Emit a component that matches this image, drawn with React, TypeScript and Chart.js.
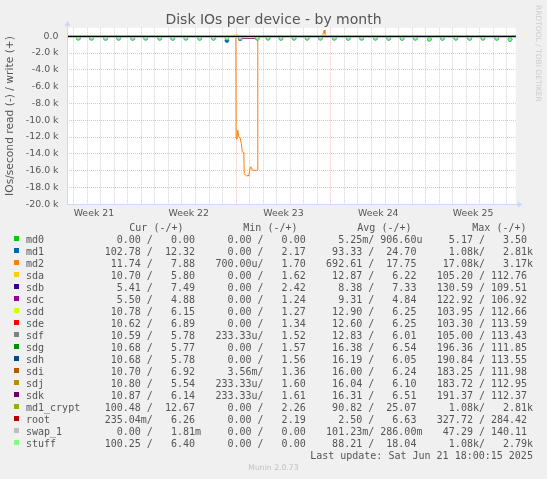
import React, { useEffect, useRef } from "react";
import { Chart, registerables, type ChartConfiguration, type Plugin } from "chart.js";

Chart.register(...registerables);

// x axis is in days since Monday 19 May 2025 00:00 (start of week 21)
const X_MIN = 1.51;
const X_MAX = 34.65;

const weekLabels = ["Week 21", "Week 22", "Week 23", "Week 24", "Week 25"];
const weekStarts = [0, 7, 14, 21, 28];

const seriesNames = [
  "md0", "md1", "md2", "sda", "sdb", "sdc", "sdd", "sde", "sdf",
  "sdg", "sdh", "sdi", "sdj", "sdk", "md1_crypt", "root", "swap_1", "stuff",
];
const seriesColors = [
  "#00cc00", "#0066b3", "#ff8000", "#ffcc00", "#330099", "#990099", "#ccff00", "#ff0000", "#808080",
  "#008f00", "#00487d", "#b35a00", "#b38f00", "#6b006b", "#8fb300", "#b30000", "#bebebe", "#80ff80",
];

// legend figures, as printed
const curRead = ["0.00", "102.78", "11.74", "10.70", "5.41", "5.50", "10.78", "10.62", "10.59", "10.68", "10.68", "10.70", "10.80", "10.87", "100.48", "235.04m", "0.00", "100.25"];
const curWrite = ["0.00", "12.32", "7.88", "5.80", "7.49", "4.88", "6.15", "6.89", "5.78", "5.77", "5.78", "6.92", "5.54", "6.14", "12.67", "6.26", "1.81m", "6.40"];
const minRead = ["0.00", "0.00", "700.00u", "0.00", "0.00", "0.00", "0.00", "0.00", "233.33u", "0.00", "0.00", "3.56m", "233.33u", "233.33u", "0.00", "0.00", "0.00", "0.00"];
const minWrite = ["0.00", "2.17", "1.70", "1.62", "2.42", "1.24", "1.27", "1.34", "1.52", "1.57", "1.56", "1.36", "1.60", "1.61", "2.26", "2.19", "0.00", "0.00"];
const avgRead = ["5.25m", "93.33", "692.61", "12.87", "8.38", "9.31", "12.90", "12.60", "12.83", "16.38", "16.19", "16.00", "16.04", "16.31", "90.82", "2.50", "101.23m", "88.21"];
const avgWrite = ["906.60u", "24.70", "17.75", "6.22", "7.33", "4.84", "6.25", "6.25", "6.01", "6.54", "6.05", "6.24", "6.10", "6.51", "25.07", "6.63", "286.00m", "18.04"];
const maxRead = ["5.17", "1.08k", "17.08k", "105.20", "130.59", "122.92", "103.95", "103.30", "105.00", "196.36", "190.84", "183.25", "183.72", "191.37", "1.08k", "327.72", "47.29", "1.08k"];
const maxWrite = ["3.50", "2.81k", "3.17k", "112.76", "109.51", "106.92", "112.66", "113.59", "113.43", "111.85", "113.55", "111.98", "112.95", "112.37", "2.81k", "284.42", "140.11", "2.79k"];

// quiet devices: a few samples across the month (read is drawn negative)
const coarseDays = [1.51, 9, 17, 25, 34.65];
const md0Read = [0, 0, -0.01, 0, 0];
const md0Write = [0, 0, 0, 0, 0];
const sdaRead = [-12, -13, -12, -14, -11];
const sdaWrite = [6, 6, 7, 6, 6];
const sdbRead = [-8, -9, -8, -8, -5];
const sdbWrite = [7, 7, 8, 7, 7];
const sdcRead = [-9, -10, -9, -9, -6];
const sdcWrite = [5, 5, 5, 5, 5];
const sddRead = [-12, -13, -13, -12, -11];
const sddWrite = [6, 6, 6, 7, 6];
const sdeRead = [-12, -13, -12, -13, -11];
const sdeWrite = [6, 7, 6, 6, 7];
const sdfRead = [-13, -12, -13, -13, -11];
const sdfWrite = [6, 6, 6, 6, 6];
const sdgRead = [-15, -17, -16, -17, -11];
const sdgWrite = [6, 7, 6, 7, 6];
const sdhRead = [-16, -16, -17, -16, -11];
const sdhWrite = [6, 6, 6, 6, 6];
const sdiRead = [-16, -16, -16, -16, -11];
const sdiWrite = [6, 6, 6, 6, 7];
const sdjRead = [-16, -16, -16, -16, -11];
const sdjWrite = [6, 6, 6, 6, 6];
const sdkWrite = [6, 7, 6, 7, 6];
const md1Write = [25, 24, 25, 25, 12];
const md1CryptWrite = [25, 25, 25, 25, 13];
const rootRead = [-2, -3, -2, -3, -0.2];
const rootWrite = [7, 6, 7, 6, 6];
const swapRead = [0, -0.1, -0.1, -0.1, 0];
const swapWrite = [0, 0.3, 0.3, 0.3, 0];
const stuffWrite = [18, 18, 18, 18, 6];

// md2: the big read burst at the start of week 23
const md2ReadDays = [1.51, 9, 13.98, 14.0, 14.06, 14.12, 14.2, 14.3, 14.39, 14.45, 14.52, 14.57, 14.6, 14.7, 14.8, 14.88, 14.93, 14.98, 15.05, 15.12, 15.2, 15.35, 15.5, 15.58, 15.6, 22, 34.65];
const md2Read = [-12, -14, -12, -12180, -12250, -11190, -12000, -12100, -12800, -13700, -13850, -13950, -16350, -16550, -16670, -16550, -16650, -16200, -15560, -15600, -15950, -15950, -16000, -15950, -10, -13, -12];
const md2WriteDays = [1.51, 9, 13.78, 13.8, 14.22, 14.25, 20.38, 20.5, 20.56, 20.62, 27, 34.65];
const md2Write = [16, 18, 18, 110, 110, 18, 17, 720, 320, 17, 18, 8];

// sdk read during the burst
const sdkReadDays = [1.51, 9, 14.48, 14.5, 15.6, 15.62, 25, 34.65];
const sdkRead = [-16, -17, -16, -240, -240, -16, -17, -11];

// daily read peaks on md1 / md1_crypt / stuff
const spikeDays = [2.35, 3.32, 4.36, 5.32, 6.36, 7.32, 8.36, 9.32, 10.29, 11.31, 12.33, 13.32, 14.3, 15.57, 16.36, 17.31, 18.28, 19.25, 20.23, 21.25, 22.28, 23.27, 24.29, 25.27, 26.26, 27.24, 28.27, 29.24, 30.23, 31.25, 32.23, 33.25, 34.23];
const stuffSpikeRead = [230, 240, 250, 240, 250, 240, 240, 250, 240, 250, 240, 230, 210, 240, 240, 250, 240, 240, 230, 240, 250, 240, 240, 250, 260, 240, 360, 250, 240, 250, 240, 250, 380];
const md1SpikeRead = [230, 240, 250, 240, 250, 240, 240, 250, 240, 250, 240, 520, 300, 240, 240, 250, 240, 240, 230, 240, 250, 240, 240, 250, 260, 240, 360, 250, 240, 250, 240, 250, 380];
const md1ReadBase = -130;
const stuffReadBase = -140;

type P = { x: number; y: number };

function pairs(xs: number[], ys: number[]): P[] {
  return xs.map((x, i) => ({ x, y: ys[i] }));
}

function withSpikes(base: number, peaks: number[]): P[] {
  const out: P[] = [{ x: X_MIN, y: base }];
  spikeDays.forEach((d, i) => {
    out.push({ x: d - 0.09, y: base }, { x: d, y: -peaks[i] }, { x: d + 0.09, y: base });
  });
  out.push({ x: X_MAX, y: base });
  return out;
}

const seriesRead: P[][] = [
  pairs(coarseDays, md0Read),
  withSpikes(md1ReadBase, md1SpikeRead),
  pairs(md2ReadDays, md2Read),
  pairs(coarseDays, sdaRead),
  pairs(coarseDays, sdbRead),
  pairs(coarseDays, sdcRead),
  pairs(coarseDays, sddRead),
  pairs(coarseDays, sdeRead),
  pairs(coarseDays, sdfRead),
  pairs(coarseDays, sdgRead),
  pairs(coarseDays, sdhRead),
  pairs(coarseDays, sdiRead),
  pairs(coarseDays, sdjRead),
  pairs(sdkReadDays, sdkRead),
  withSpikes(md1ReadBase, stuffSpikeRead),
  pairs(coarseDays, rootRead),
  pairs(coarseDays, swapRead),
  withSpikes(stuffReadBase, stuffSpikeRead),
];
const seriesWrite: P[][] = [
  pairs(coarseDays, md0Write),
  pairs(coarseDays, md1Write),
  pairs(md2WriteDays, md2Write),
  pairs(coarseDays, sdaWrite),
  pairs(coarseDays, sdbWrite),
  pairs(coarseDays, sdcWrite),
  pairs(coarseDays, sddWrite),
  pairs(coarseDays, sdeWrite),
  pairs(coarseDays, sdfWrite),
  pairs(coarseDays, sdgWrite),
  pairs(coarseDays, sdhWrite),
  pairs(coarseDays, sdiWrite),
  pairs(coarseDays, sdjWrite),
  pairs(coarseDays, sdkWrite),
  pairs(coarseDays, md1CryptWrite),
  pairs(coarseDays, rootWrite),
  pairs(coarseDays, swapWrite),
  pairs(coarseDays, stuffWrite),
];

const FONT = "DejaVu Sans";
const MONO = "DejaVu Sans Mono";
const TEXT = "#555555";
const MINOR = "rgba(195,195,195,0.75)";
const MAJOR = "rgba(240,140,140,0.6)";
const AXIS = "#CFD6F8";

// rrdtool GPRINT "%6.2lf%s"
function gp(s: string): string {
  const m = /^(-?[\d.]+)([kmu]?)$/.exec(s);
  if (!m) return s;
  return m[1].padStart(6, " ") + (m[2] || " ");
}
function field(r: string, w: string): string {
  return gp(r) + "/ " + gp(w);
}

function yLabel(v: number): string {
  if (v > 0 || v % 2000 !== 0) return "";
  if (v === 0) return "0.0";
  return (v / 1000).toFixed(1) + " k";
}

const rrdPlugin: Plugin<"line"> = {
  id: "rrdFrame",
  beforeDraw(chart) {
    const { ctx, chartArea } = chart;
    ctx.save();
    ctx.fillStyle = "#ffffff";
    ctx.fillRect(chartArea.left, chartArea.top, chartArea.right - chartArea.left, chartArea.bottom - chartArea.top);
    ctx.restore();
  },
  afterDatasetsDraw(chart) {
    const { ctx, chartArea, scales } = chart;
    const y0 = Math.round(scales.y.getPixelForValue(0)) + 0.5;
    ctx.save();
    ctx.strokeStyle = "#000000";
    ctx.lineWidth = 1;
    ctx.beginPath();
    ctx.moveTo(chartArea.left, y0);
    ctx.lineTo(chartArea.right, y0);
    ctx.stroke();

    const l = Math.round(chartArea.left) + 0.5;
    const b = Math.round(chartArea.bottom) + 0.5;
    ctx.strokeStyle = AXIS;
    ctx.fillStyle = AXIS;
    ctx.beginPath();
    ctx.moveTo(l, b);
    ctx.lineTo(l, chartArea.top - 3);
    ctx.moveTo(l, b);
    ctx.lineTo(chartArea.right + 3, b);
    ctx.stroke();
    ctx.beginPath();
    ctx.moveTo(l, chartArea.top - 7);
    ctx.lineTo(l - 3, chartArea.top - 2);
    ctx.lineTo(l + 3, chartArea.top - 2);
    ctx.closePath();
    ctx.fill();
    ctx.beginPath();
    ctx.moveTo(chartArea.right + 7, b);
    ctx.lineTo(chartArea.right + 2, b - 3);
    ctx.lineTo(chartArea.right + 2, b + 3);
    ctx.closePath();
    ctx.fill();
    ctx.restore();
  },
};

const dayTicks: number[] = [];
for (let d = Math.ceil(X_MIN); d <= X_MAX; d++) dayTicks.push(d);
const weekCenters = weekStarts.map((s) => s + 3.5);
const xTickValues = [...dayTicks, ...weekCenters].sort((a, b) => a - b);
const yTickValues: number[] = [];
for (let v = -20000; v <= 1000; v += 1000) yTickValues.push(v);

const colX = [104.7, 215.4, 326.1, 436.8];
const headX = [129.3, 243.3, 357.3, 472.3];
const headers = ["Cur (-/+)", "Min (-/+)", "Avg (-/+)", "Max (-/+)"];
const ROW0_TOP = 233.9;
const ROW_STEP = 12;

export default function App() {
  const canvasRef = useRef<HTMLCanvasElement | null>(null);

  useEffect(() => {
    if (!canvasRef.current) return;
    const n = seriesNames.length;
    const datasets: any[] = [];
    seriesNames.forEach((name, i) => {
      const isSpiky = name === "stuff" || name === "md1";
      datasets.push({
        label: name + " read",
        data: seriesRead[i],
        borderColor: seriesColors[i],
        backgroundColor: seriesColors[i],
        borderWidth: 1,
        pointRadius: isSpiky ? (c: any) => (c.raw && c.raw.y < -150 ? 1.9 : 0) : 0,
        pointBackgroundColor: seriesColors[i],
        pointBorderColor: name === "stuff" ? "#5fc35f" : seriesColors[i],
        pointBorderWidth: 0.8,
        order: 2 * (n - i),
        fill: false,
        tension: 0,
      });
      datasets.push({
        label: name + " write",
        data: seriesWrite[i],
        borderColor: seriesColors[i],
        backgroundColor: seriesColors[i],
        borderWidth: 1,
        pointRadius: 0,
        order: 2 * (n - i) - 1,
        fill: false,
        tension: 0,
      });
    });

    const config: ChartConfiguration<"line"> = {
      type: "line",
      data: { datasets },
      options: {
        responsive: true,
        maintainAspectRatio: false,
        animation: false,
        layout: { padding: { left: 0, top: 27.8, right: 31.3, bottom: 254.8 } },
        plugins: {
          legend: { display: false },
          tooltip: { enabled: false },
          title: { display: false },
        },
        scales: {
          x: {
            type: "linear",
            min: X_MIN,
            max: X_MAX,
            afterBuildTicks: (scale: any) => {
              scale.ticks = xTickValues.map((v) => ({ value: v }));
            },
            afterFit: (scale: any) => {
              scale.height = 20;
            },
            ticks: {
              autoSkip: false,
              maxRotation: 0,
              padding: 3.5,
              color: TEXT,
              font: { family: FONT, size: 9.4 },
              callback: (v: any) => {
                const k = weekCenters.indexOf(Number(v));
                return k >= 0 ? weekLabels[k] : "";
              },
            },
            grid: {
              drawTicks: false,
              lineWidth: 1,
              color: (c: any) => {
                const v = c.tick ? c.tick.value : 0;
                if (!Number.isInteger(v)) return "rgba(0,0,0,0)";
                return v % 7 === 0 ? MAJOR : MINOR;
              },
            },
            border: { display: false, dash: [1, 1] },
          },
          y: {
            type: "linear",
            min: -20000,
            max: 1000,
            afterBuildTicks: (scale: any) => {
              scale.ticks = yTickValues.map((v) => ({ value: v }));
            },
            afterFit: (scale: any) => {
              scale.width = 67;
            },
            ticks: {
              padding: 8.5,
              color: TEXT,
              font: { family: FONT, size: 9.4 },
              callback: (v: any) => yLabel(Number(v)),
            },
            grid: {
              drawTicks: false,
              lineWidth: 1,
              color: (c: any) => {
                const v = c.tick ? c.tick.value : 0;
                return v % 2000 === 0 ? MAJOR : MINOR;
              },
            },
            border: { display: false, dash: [1, 1] },
            title: {
              display: true,
              text: "IOs/second read (-) / write (+)",
              color: TEXT,
              font: { family: FONT, size: 10.7 },
              padding: { top: 4, bottom: 0 },
            },
          },
        },
      },
      plugins: [rrdPlugin],
    };

    const chart = new Chart(canvasRef.current, config);
    return () => {
      chart.destroy();
    };
  }, []);

  const mono: React.CSSProperties = {
    position: "absolute",
    fontFamily: MONO,
    fontSize: 10,
    lineHeight: "12px",
    color: TEXT,
    whiteSpace: "pre",
  };

  return (
    <div
      style={{
        position: "absolute",
        left: 0,
        top: 0,
        width: 547,
        height: 479,
        background: "#f0f0f0",
        overflow: "hidden",
      }}
    >
      <div style={{ position: "absolute", left: 0, top: 0, width: 547, height: 479 }}>
        <canvas ref={canvasRef} aria-label="Disk IOs per device - by month" />
      </div>
      <div
        style={{
          position: "absolute",
          left: 0,
          top: 11,
          width: 547,
          textAlign: "center",
          fontFamily: FONT,
          fontSize: 14,
          lineHeight: "16px",
          color: TEXT,
        }}
      >
        Disk IOs per device - by month
      </div>
      <div
        style={{
          position: "absolute",
          left: 533.5,
          top: 5,
          writingMode: "vertical-rl",
          fontFamily: FONT,
          fontSize: 7.5,
          lineHeight: "8px",
          color: "#cccccc",
          whiteSpace: "nowrap",
        }}
      >
        RRDTOOL / TOBI OETIKER
      </div>
      {headers.map((h, k) => (
        <div key={h} style={{ ...mono, left: headX[k], top: ROW0_TOP - ROW_STEP }}>
          {h}
        </div>
      ))}
      {seriesNames.map((name, i) => {
        const top = ROW0_TOP + i * ROW_STEP;
        return (
          <React.Fragment key={name}>
            <div
              style={{
                position: "absolute",
                left: 13.5,
                top: top + 2,
                width: 5.5,
                height: 5.5,
                background: seriesColors[i],
              }}
            />
            <div style={{ ...mono, left: 26, top }}>{name}</div>
            <div style={{ ...mono, left: colX[0], top }}>{field(curRead[i], curWrite[i])}</div>
            <div style={{ ...mono, left: colX[1], top }}>{field(minRead[i], minWrite[i])}</div>
            <div style={{ ...mono, left: colX[2], top }}>{field(avgRead[i], avgWrite[i])}</div>
            <div style={{ ...mono, left: colX[3], top }}>{field(maxRead[i], maxWrite[i])}</div>
          </React.Fragment>
        );
      })}
      <div style={{ ...mono, right: 547 - 532.9, top: ROW0_TOP + seriesNames.length * ROW_STEP }}>
        Last update: Sat Jun 21 18:00:15 2025
      </div>
      <div
        style={{
          position: "absolute",
          left: 0,
          width: 547,
          top: 462.8,
          textAlign: "center",
          fontFamily: FONT,
          fontSize: 7.7,
          lineHeight: "10px",
          color: "#c0c0c0",
        }}
      >
        Munin 2.0.73
      </div>
    </div>
  );
}
